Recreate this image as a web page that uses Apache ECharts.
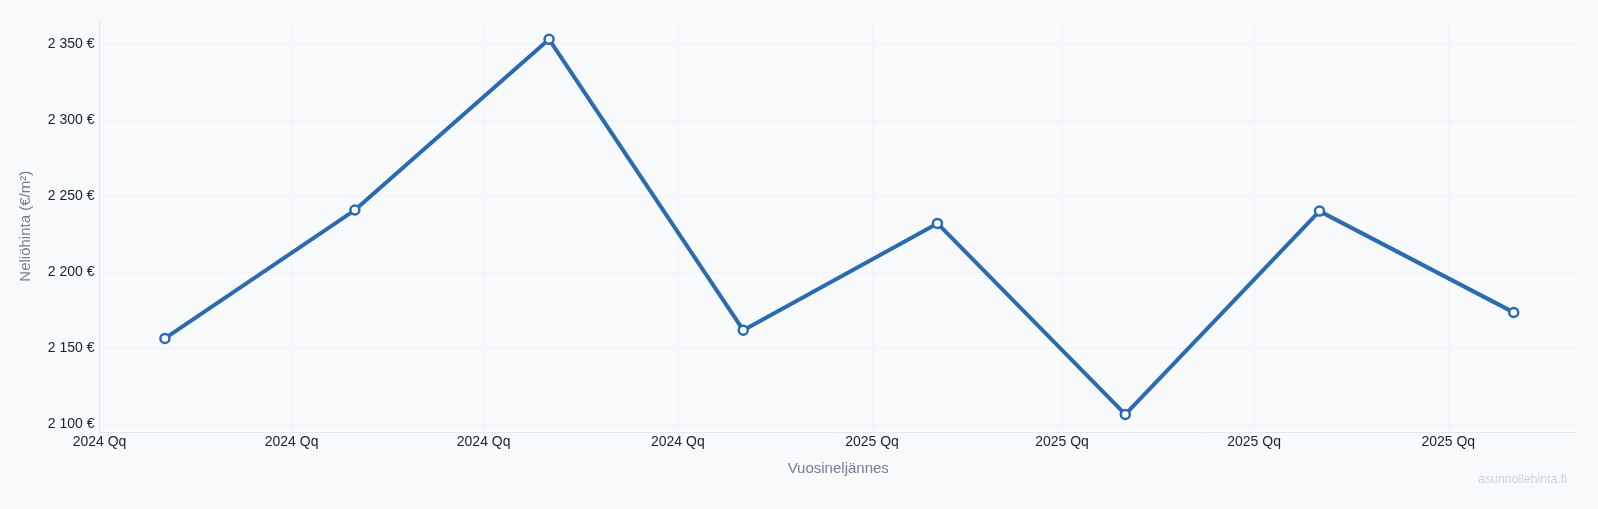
<!DOCTYPE html>
<html>
<head>
<meta charset="utf-8">
<script src="https://cdn.jsdelivr.net/npm/echarts@6/dist/echarts.min.js"></script>
<style>
html,body{margin:0;padding:0;background:#f7f9fb;}
#chart{width:1598px;height:509px;}
</style>
</head>
<body>
<div id="chart"></div>
<script>
// Data: one value per quarter (plotted at quarter start + 1 month)
const periodDates = ['2024-02-01','2024-05-01','2024-08-01','2024-11-01','2025-02-01','2025-05-01','2025-08-01','2025-11-01'];
const pricePerSqm = [2156.6, 2241.0, 2353.3, 2162.0, 2232.2, 2106.6, 2240.3, 2173.7];

// X tick positions and labels
const xTickDates = ['2024-01-01','2024-04-01','2024-07-01','2024-10-01','2025-01-01','2025-04-01','2025-07-01','2025-10-01'];
const xTickLabels = ['2024 Qq','2024 Qq','2024 Qq','2024 Qq','2025 Qq','2025 Qq','2025 Qq','2025 Qq'];

// Y ticks
const yTicks = [2100, 2150, 2200, 2250, 2300, 2350];

function toTs(s){ const p = s.split('-').map(Number); return Date.UTC(p[0], p[1]-1, p[2]); }
const xTickTs = xTickDates.map(toTs);
const seriesData = periodDates.map((d,i)=>[toTs(d), pricePerSqm[i]]);

function fmtEur(v){
  const s = String(Math.round(v));
  return s.replace(/\B(?=(\d{3})+(?!\d))/g, ' ') + ' €';
}

const chart = echarts.init(document.getElementById('chart'), null, {renderer:'canvas'});
chart.setOption({
  backgroundColor: '#f7f9fb',
  animation: false,
  grid: {left: 99.5, right: 21, top: 20, bottom: 76.5, containLabel: false},
  xAxis: {
    type: 'value',
    min: toTs('2024-01-01'),
    max: toTs('2025-12-01'),
    name: 'Vuosineljännes',
    nameLocation: 'middle',
    nameGap: 29,
    nameTextStyle: {color: '#718096', fontSize: 15, fontFamily: 'Liberation Sans, Arial, sans-serif'},
    axisLine: {show: true, lineStyle: {color: '#e2e8f0', width: 1}},
    axisTick: {show: false, customValues: xTickTs},
    axisLabel: {
      customValues: xTickTs,
      color: '#1a202c',
      fontSize: 14,
      fontFamily: 'Liberation Sans, Arial, sans-serif',
      margin: 3,
      hideOverlap: false,
      formatter: function(v){
        let best = 0, bd = Infinity;
        xTickTs.forEach((t,i)=>{ const d = Math.abs(t - v); if (d < bd) { bd = d; best = i; } });
        return xTickLabels[best];
      }
    },
    splitLine: {show: true, lineStyle: {color: '#f0f3f7', width: 1}}
  },
  yAxis: {
    type: 'value',
    min: 2094.7,
    max: 2366,
    name: 'Neliöhinta (€/m²)',
    nameLocation: 'middle',
    nameGap: 66,
    nameTextStyle: {color: '#718096', fontSize: 15, fontFamily: 'Liberation Sans, Arial, sans-serif'},
    axisLine: {show: true, lineStyle: {color: '#e2e8f0', width: 1}},
    axisTick: {show: false, customValues: yTicks},
    axisLabel: {
      customValues: yTicks,
      color: '#1a202c',
      fontSize: 14,
      fontFamily: 'Liberation Sans, Arial, sans-serif',
      margin: 5,
      formatter: fmtEur
    },
    splitLine: {show: true, lineStyle: {color: '#f0f3f7', width: 1}}
  },
  series: [{
    type: 'line',
    data: seriesData,
    symbol: 'circle',
    symbolSize: 9,
    showSymbol: true,
    itemStyle: {color: '#ffffff', borderColor: '#2b6cb0', borderWidth: 2.5},
    lineStyle: {color: '#2b6cb0', width: 4},
    emphasis: {disabled: true}
  }],
  graphic: [{
    type: 'text',
    right: 31,
    top: 474,
    style: {text: 'asunnollehinta.fi', fill: '#cbd5e0', fontSize: 12.3, fontFamily: 'Liberation Sans, Arial, sans-serif'}
  }]
});
</script>
</body>
</html>
